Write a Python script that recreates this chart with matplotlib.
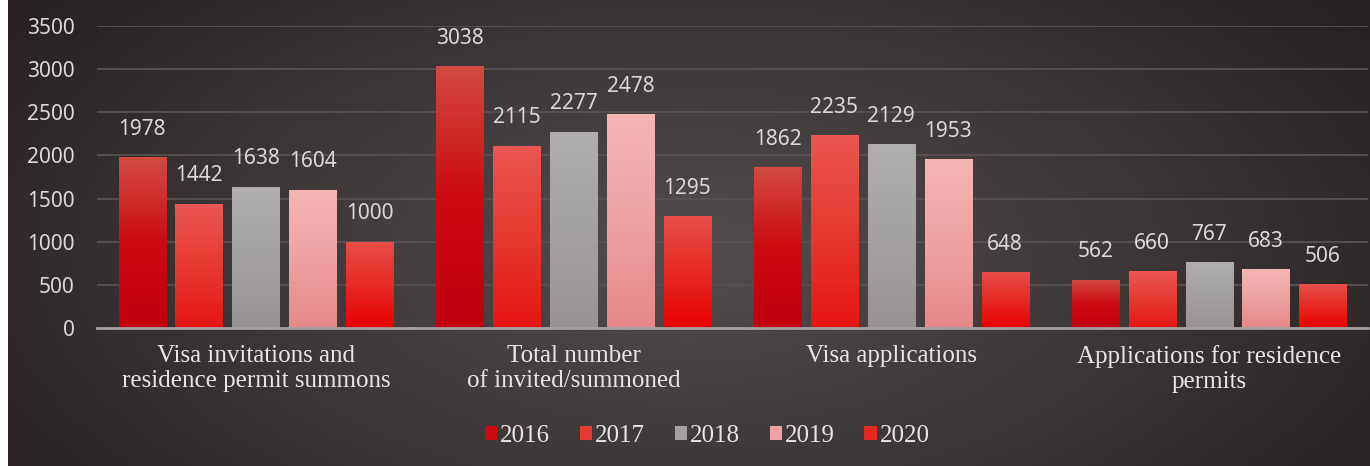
import numpy as np
import matplotlib
matplotlib.use('Agg')
import matplotlib.pyplot as plt
from matplotlib.colors import LinearSegmentedColormap
from matplotlib.patches import Patch

categories = ['Visa invitations and\nresidence permit summons',
              'Total number\nof invited/summoned',
              'Visa applications',
              'Applications for residence\npermits']
years = ['2016', '2017', '2018', '2019', '2020']
v2016 = [1978, 3038, 1862, 562]
v2017 = [1442, 2115, 2235, 660]
v2018 = [1638, 2277, 2129, 767]
v2019 = [1604, 2478, 1953, 683]
v2020 = [1000, 1295, 648, 506]
series = [v2016, v2017, v2018, v2019, v2020]

# top -> bottom colour stops for each year
grads = [['#d24a42', '#cc0a10', '#c00010'],
         ['#ea5652', '#e63a30', '#e51515'],
         ['#b1afad', '#a4a2a0', '#979393'],
         ['#f4b5b5', '#efa2a2', '#e68988'],
         ['#e94d49', '#e62a22', '#e80000']]
legend_cols = ['#cc0a10', '#e63a30', '#a4a2a0', '#efa2a2', '#e62a22']

W, H = 1370, 466
fig = plt.figure(figsize=(W / 100, H / 100), dpi=100)
fig.patch.set_facecolor('white')

# background: dark radial gradient
bg = fig.add_axes([8 / W, 0, 1 - 8 / W, 1])
bg.set_axis_off()
yy, xx = np.mgrid[0:1:300j, 0:1:900j]
r = np.sqrt(((xx - 0.5) / 0.62) ** 2 + ((yy - 0.55) / 0.9) ** 2)
r = np.clip(r, 0, 1)
bg_cmap = LinearSegmentedColormap.from_list('bg', ['#534c4c', '#3f3838', '#272021'])
bg.imshow(r, cmap=bg_cmap, aspect='auto', extent=[0, 1, 0, 1], vmin=0, vmax=1)
bg.set_xlim(0, 1)
bg.set_ylim(0, 1)

ax = fig.add_axes([97 / W, 1 - 328 / H, (1368 - 97) / W, (328 - 26) / H])
ax.patch.set_alpha(0)
ax.set_xlim(-0.5, 3.5)
ax.set_ylim(0, 3500)

sans = 'Noto Sans'
x = np.arange(len(categories))
bw = 0.148
step = 0.179
grad = np.linspace(1, 0, 100).reshape(-1, 1)
for i, vals in enumerate(series):
    cmap = LinearSegmentedColormap.from_list('g%d' % i, grads[i][::-1])
    bars = ax.bar(x + (i - 2) * step, vals, bw, color=legend_cols[i], zorder=3)
    for b, v in zip(bars, vals):
        bx, by = b.get_x(), b.get_y()
        im = ax.imshow(grad, cmap=cmap, aspect='auto', zorder=4,
                       extent=[bx, bx + b.get_width(), by, by + b.get_height()],
                       vmin=0, vmax=1)
        im.set_clip_path(b)
        ax.annotate(str(v), (b.get_x() + b.get_width() / 2, v),
                    xytext=(0, 20), textcoords='offset points',
                    ha='center', va='center', fontsize=15,
                    family=sans, color='#d9d9d9', zorder=5)
ax.set_xlim(-0.5, 3.5)
ax.set_ylim(0, 3500)

ax.set_yticks(np.arange(0, 3501, 500))
ax.grid(axis='y', color='#575151', lw=1.3, zorder=0)
ax.set_axisbelow(True)
for s in ['top', 'right', 'left']:
    ax.spines[s].set_visible(False)
ax.spines['bottom'].set_color('#a59f9f')
ax.spines['bottom'].set_linewidth(2)
ax.spines['bottom'].set_zorder(6)
ax.tick_params(axis='y', length=0, pad=16, labelsize=15, labelcolor='#d9d9d9')
for t in ax.get_yticklabels():
    t.set_family(sans)
ax.set_xticks(x)
ax.set_xticklabels(categories, family='Liberation Serif', fontsize=18,
                   color='#e6e6e6', linespacing=1.2)
ax.tick_params(axis='x', length=0, pad=12)

handles = [Patch(facecolor=c, label=y) for c, y in zip(legend_cols, years)]
leg = fig.legend(handles=handles, loc='center', bbox_to_anchor=(707 / W, 1 - 436 / H),
                 ncol=5, frameon=False, prop={'family': 'Liberation Serif', 'size': 18},
                 handlelength=0.5, handleheight=0.5, handletextpad=0.1,
                 columnspacing=1.2)
for t in leg.get_texts():
    t.set_color('#e6e6e6')

fig.savefig('out.png', dpi=100, facecolor=fig.get_facecolor())
